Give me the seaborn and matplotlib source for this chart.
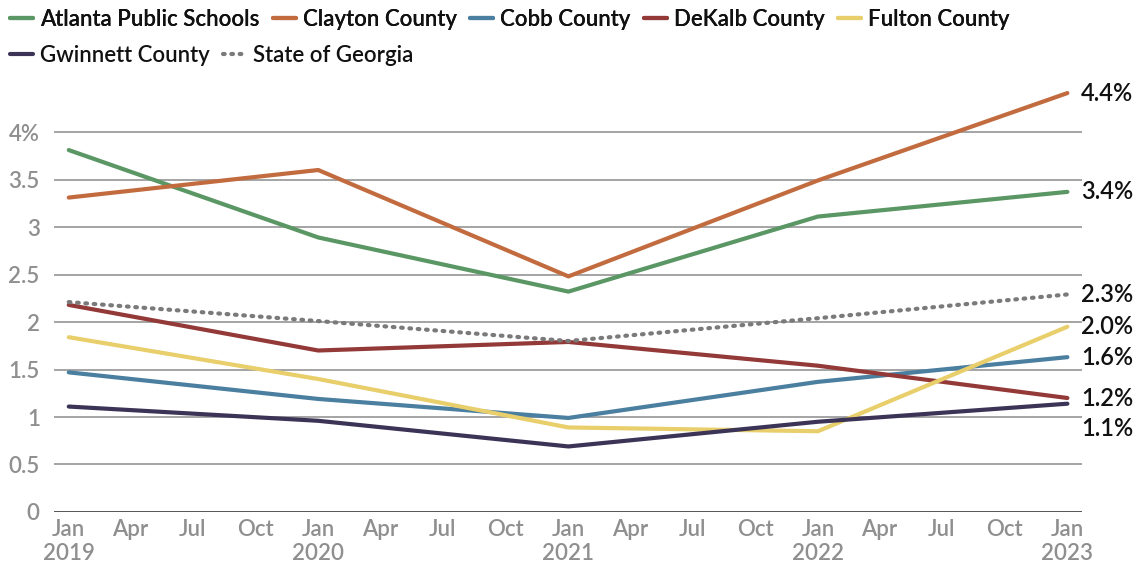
import numpy as np
import pandas as pd
import matplotlib
matplotlib.use("Agg")
import matplotlib.pyplot as plt
import matplotlib.dates as mdates
from matplotlib.lines import Line2D
import seaborn as sns

sns.set_style("white")
plt.rcParams['font.family'] = ['Lato', 'DejaVu Sans']

dates = ["2019-01-01", "2020-01-01", "2021-01-01", "2022-01-01", "2023-01-01"]
aps = [3.81, 2.89, 2.32, 3.11, 3.37]
clayton = [3.31, 3.60, 2.48, 3.49, 4.41]
cobb = [1.47, 1.19, 0.99, 1.37, 1.63]
dekalb = [2.18, 1.70, 1.79, 1.54, 1.20]
fulton = [1.84, 1.40, 0.89, 0.85, 1.95]
gwinnett = [1.11, 0.96, 0.69, 0.95, 1.14]
georgia = [2.21, 2.01, 1.80, 2.04, 2.29]

series_names = ["Atlanta Public Schools", "Clayton County", "Cobb County", "DeKalb County",
                "Fulton County", "Gwinnett County", "State of Georgia"]
series_vals = [aps, clayton, cobb, dekalb, fulton, gwinnett, georgia]
colors = ["#5a9764", "#c26b3f", "#4b7fa0", "#933a38", "#e8cf6b", "#3c3456", "#7a7a7a"]
end_labels = ["3.4%", "4.4%", "1.6%", "1.2%", "2.0%", "1.1%", "2.3%"]

rows = []
for name, vals in zip(series_names, series_vals):
    for d, v in zip(dates, vals):
        rows.append({"date": pd.Timestamp(d), "value": v, "series": name})
df = pd.DataFrame(rows)

fig = plt.figure(figsize=(11.43, 5.68), dpi=100)
ax = fig.add_axes([0.047, 0.0986, 0.9, 0.7526])

LW = 3.0
handles = []
for name, col in zip(series_names, colors):
    sub = df[df.series == name]
    if name == "State of Georgia":
        sns.lineplot(data=sub, x="date", y="value", ax=ax, color=col, lw=LW,
                     linestyle=(0, (0.4, 1.6)), dash_capstyle="round", clip_on=False)
        handles.append(Line2D([], [], color=col, lw=LW, linestyle=(0, (0.4, 1.6)),
                              dash_capstyle="round"))
    else:
        sns.lineplot(data=sub, x="date", y="value", ax=ax, color=col, lw=LW,
                     solid_capstyle="round", clip_on=False)
        handles.append(Line2D([], [], color=col, lw=LW, solid_capstyle="round"))

ax.set_ylim(0, 4.5)
x0 = mdates.date2num(pd.Timestamp("2019-01-01"))
x1 = mdates.date2num(pd.Timestamp("2023-01-01"))
ax.set_xlim(x0 - 22, x1 + 22)

yt = [0, 0.5, 1, 1.5, 2, 2.5, 3, 3.5, 4]
ylabels = ["0", "0.5", "1", "1.5", "2", "2.5", "3", "3.5", "4%"]
ax.set_yticks(yt)
ax.set_yticklabels(ylabels)
for y in yt:
    ax.axhline(y, color="#555555" if y == 0 else "#8c8c8c", lw=1.4 if y == 0 else 1.1, zorder=0)

qt = pd.date_range("2019-01-01", "2023-01-01", freq="QS")
ax.set_xticks([mdates.date2num(t) for t in qt])
xl = []
for t in qt:
    if t.month == 1:
        xl.append(f"Jan\n{t.year}")
    else:
        xl.append(t.strftime("%b"))
ax.set_xticklabels(xl)
ax.tick_params(axis="both", length=0, labelsize=16, labelcolor="#8f8f8f")
ax.tick_params(axis="y", pad=10)
ax.tick_params(axis="x", pad=5)
for t in ax.get_xticklabels() + ax.get_yticklabels():
    t.set_fontweight("semibold")
ax.set_xlabel("")
ax.set_ylabel("")
for s in ax.spines.values():
    s.set_visible(False)
ax.grid(False)
if ax.get_legend():
    ax.get_legend().remove()

# end labels with simple de-overlap
last = np.array([v[-1] for v in series_vals])
order = np.argsort(-last)
pos = {}
min_gap = 0.325
prev = None
for i in order:
    y = last[i]
    if prev is not None and prev - y < min_gap:
        y = prev - min_gap
    pos[i] = y
    prev = y
for i in range(len(series_vals)):
    ax.text(x1 + 20, pos[i], end_labels[i], fontsize=17, color="#111111",
            va="center", ha="left", fontweight="semibold", clip_on=False)

legkw = dict(loc="upper left", frameon=False, handlelength=1.05,
             handletextpad=0.3, columnspacing=0.6, borderaxespad=0.3,
             prop={"size": 16, "weight": "semibold"})
leg1 = fig.legend(handles[:5], series_names[:5], bbox_to_anchor=(-0.005, 1.012), ncol=5, **legkw)
fig.add_artist(leg1)
leg2 = fig.legend(handles[5:], series_names[5:], bbox_to_anchor=(-0.005, 0.948), ncol=2, **legkw)
for leg in (leg1, leg2):
    for t in leg.get_texts():
        t.set_color("#111111")

fig.savefig("out.png", dpi=100)
